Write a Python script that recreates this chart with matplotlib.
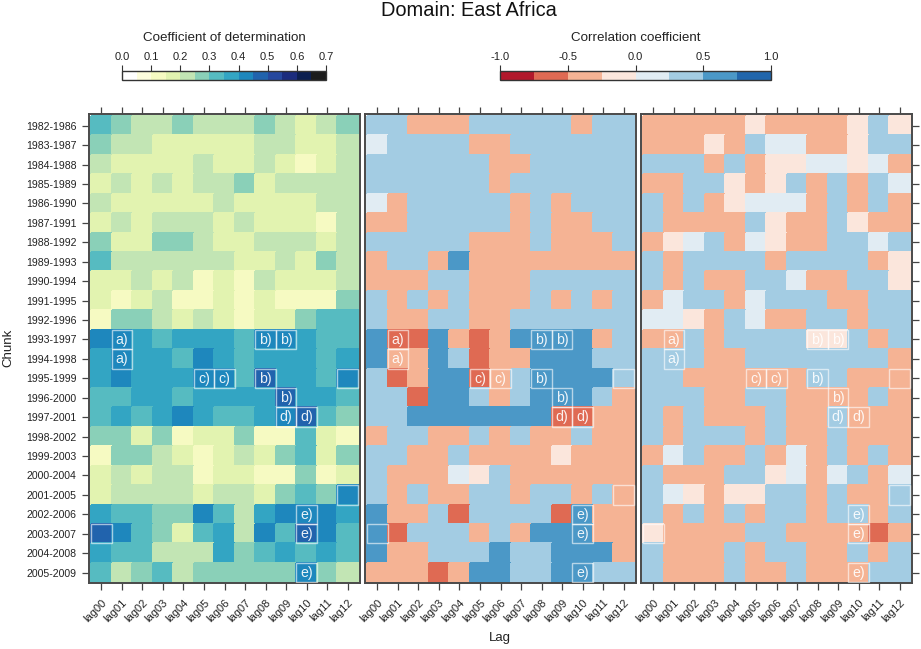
"""
Lagged regression skill per chunk, East Africa
"""
import numpy as np
import matplotlib
matplotlib.use("Agg")
import matplotlib.pyplot as plt
from matplotlib.cm import ScalarMappable
from matplotlib.colors import BoundaryNorm, ListedColormap
from matplotlib.patches import Rectangle

plt.rcParams['font.family'] = ['Liberation Sans', 'DejaVu Sans']

chunks = ["1982-1986", "1983-1987", "1984-1988", "1985-1989", "1986-1990", "1987-1991",
          "1988-1992", "1989-1993", "1990-1994", "1991-1995", "1992-1996", "1993-1997",
          "1994-1998", "1995-1999", "1996-2000", "1997-2001", "1998-2002", "1999-2003",
          "2000-2004", "2001-2005", "2002-2006", "2003-2007", "2004-2008", "2005-2009"]
lags = ["lag00", "lag01", "lag02", "lag03", "lag04", "lag05", "lag06",
        "lag07", "lag08", "lag09", "lag10", "lag11", "lag12"]

r2_values = [
    [.32, .28, .22, .22, .28, .22, .22, .22, .28, .22, .18, .22, .28],
    [.28, .22, .22, .18, .18, .18, .18, .18, .22, .22, .18, .18, .22],
    [.22, .18, .18, .18, .18, .22, .18, .18, .22, .18, .12, .18, .22],
    [.18, .22, .18, .22, .18, .22, .22, .28, .18, .22, .22, .22, .22],
    [.22, .18, .18, .18, .18, .18, .22, .18, .18, .18, .18, .22, .22],
    [.18, .22, .18, .22, .22, .22, .18, .22, .18, .18, .18, .12, .22],
    [.28, .18, .18, .28, .28, .22, .18, .18, .22, .22, .22, .18, .22],
    [.32, .22, .22, .22, .22, .22, .22, .18, .18, .22, .18, .28, .22],
    [.18, .18, .22, .18, .22, .12, .18, .12, .22, .18, .18, .18, .22],
    [.18, .12, .18, .22, .12, .12, .18, .12, .18, .12, .12, .12, .28],
    [.12, .28, .28, .22, .18, .22, .18, .12, .18, .18, .28, .32, .32],
    [.42, .42, .38, .32, .38, .38, .38, .32, .42, .42, .38, .32, .32],
    [.38, .42, .38, .38, .32, .42, .38, .32, .38, .38, .38, .32, .38],
    [.38, .42, .38, .38, .38, .42, .42, .32, .48, .38, .38, .32, .42],
    [.32, .32, .38, .38, .32, .38, .38, .38, .38, .48, .38, .38, .32],
    [.32, .38, .32, .38, .42, .38, .32, .32, .38, .42, .48, .32, .28],
    [.28, .28, .18, .28, .12, .18, .18, .28, .12, .12, .32, .18, .12],
    [.12, .28, .28, .22, .18, .12, .18, .22, .18, .28, .32, .18, .28],
    [.18, .22, .18, .22, .22, .12, .18, .18, .12, .12, .28, .12, .18],
    [.18, .22, .22, .22, .22, .18, .22, .22, .18, .28, .32, .28, .42],
    [.38, .32, .32, .28, .28, .42, .32, .22, .38, .42, .42, .42, .38],
    [.48, .42, .32, .28, .18, .32, .38, .22, .42, .32, .48, .42, .32],
    [.38, .32, .32, .22, .22, .22, .38, .28, .32, .38, .32, .38, .32],
    [.32, .22, .28, .32, .22, .28, .28, .28, .28, .28, .42, .28, .22],
]

corr_middle = [
    [.38, .38, -.38, -.38, -.38, .38, .38, .38, .38, .38, -.38, .38, .38],
    [.12, .38, .38, .38, .38, -.38, -.38, .38, .38, .38, .38, .38, .38],
    [.38, .38, .38, .38, .38, .38, -.38, -.38, .38, .38, .38, .38, .38],
    [.38, .38, .38, .38, .38, .38, -.38, .38, .38, .38, .38, .38, .38],
    [.12, -.38, .38, .38, .38, .38, .38, -.38, .38, -.38, .38, .38, .38],
    [-.38, -.38, .38, .38, .38, .38, .38, -.38, .38, -.38, -.38, .38, .38],
    [.38, .38, .38, .38, .38, -.38, -.38, -.38, .38, -.38, -.38, -.38, .38],
    [-.38, .38, .38, -.38, .62, -.38, -.38, -.38, -.38, -.38, -.38, -.38, -.38],
    [-.38, -.38, -.38, .38, .38, -.38, -.38, -.38, .38, .38, .38, .38, .38],
    [.38, -.38, .38, -.38, .38, -.38, -.38, -.38, .38, -.38, .38, -.38, .38],
    [.38, -.38, -.38, .38, .38, -.38, -.38, .38, .38, .38, .38, .38, .38],
    [.62, -.62, -.62, .62, -.38, -.62, -.38, .62, .62, .62, .62, -.38, .38],
    [.62, -.38, -.38, .62, .38, -.62, -.38, -.38, .62, .62, .62, .38, .38],
    [.38, -.62, -.38, .62, .62, -.62, -.38, .38, .62, .62, .62, .62, .38],
    [.38, .38, -.62, .62, .62, .38, -.38, .38, .62, .62, .62, .38, -.38],
    [.38, .38, .62, .62, .62, .62, .62, .62, .62, -.62, -.62, -.38, -.38],
    [-.38, .38, .38, -.38, -.38, .38, -.38, .38, -.38, -.38, .38, -.38, -.38],
    [.38, .38, -.38, -.38, .38, -.38, -.38, -.38, -.38, -.12, -.38, -.38, -.38],
    [.38, -.38, -.38, -.38, .12, -.12, .38, -.38, -.38, -.38, -.38, -.38, -.38],
    [.38, -.38, .38, -.38, -.38, .38, .38, -.38, .38, .38, -.38, .38, -.38],
    [.62, -.38, -.38, .38, -.62, .38, .38, .38, .38, -.62, .62, -.38, -.38],
    [.62, -.62, .38, .38, .38, -.38, .38, -.38, .62, .62, .62, -.38, -.38],
    [.62, -.38, -.38, .38, .38, .38, .62, .38, .38, .62, .62, .62, -.38],
    [-.38, -.38, -.38, -.62, -.38, .62, .62, .38, .38, .62, .62, .38, .38],
]

corr_right = [
    [-.38, -.38, -.38, -.38, -.38, -.12, -.38, -.38, -.38, -.38, -.12, .38, -.12],
    [-.38, -.38, -.38, -.12, -.38, .38, .12, .12, -.38, -.38, -.12, .38, .38],
    [.38, .38, .38, -.38, .38, -.38, -.12, -.12, .12, .12, -.12, .12, -.38],
    [-.38, -.38, .38, .38, -.12, -.38, -.12, .38, -.38, .38, -.38, .38, .12],
    [.38, -.38, .38, -.38, -.12, .12, .12, .12, -.38, .38, -.38, .38, -.38],
    [.38, -.38, -.38, -.38, -.38, .38, -.12, -.38, -.38, .38, -.12, -.38, -.38],
    [-.38, -.12, .12, .38, -.38, .12, -.12, -.38, -.38, .38, .38, .12, .38],
    [.38, -.38, .38, .38, .38, .38, -.38, .38, .38, .38, .38, -.38, -.12],
    [.38, -.38, .38, -.38, -.38, .38, .38, .12, -.38, -.38, .38, .38, -.12],
    [-.38, .12, .38, .38, -.38, .12, .38, .38, .38, -.38, -.38, .38, .38],
    [.12, .12, -.12, -.38, .38, .12, -.38, -.38, .38, .38, -.38, .38, .38],
    [-.38, -.38, .38, -.38, .38, .38, .38, .38, -.12, -.12, .38, -.38, .38],
    [.38, .38, .38, -.38, -.38, .38, .38, .38, .38, .38, .38, .38, -.38],
    [.38, .38, -.38, -.38, -.38, -.38, -.38, -.38, .38, .38, -.38, -.38, -.38],
    [.38, .38, .38, -.38, -.38, .38, .38, -.38, -.38, -.38, -.38, .38, -.38],
    [.38, -.38, .38, -.38, -.38, -.38, .38, -.38, -.38, .38, -.38, -.38, -.38],
    [.38, -.38, .38, .38, .38, -.38, .38, -.38, -.38, .38, -.38, -.38, -.38],
    [-.38, .12, .38, -.38, -.38, .38, -.38, .12, -.38, .38, -.38, .38, -.38],
    [.38, -.38, -.38, -.38, .38, .38, -.12, .12, -.38, .12, .38, -.38, .12],
    [.38, .12, -.12, -.38, -.12, -.12, .38, .38, -.38, .38, -.38, -.38, .38],
    [.38, -.38, .38, -.38, .38, -.38, .38, .38, -.38, .38, .38, -.38, .38],
    [-.12, -.38, -.38, -.38, -.38, .38, .38, -.38, -.38, -.38, -.38, -.62, -.38],
    [.38, -.38, -.38, -.38, .38, -.38, .38, .38, -.38, -.38, .38, -.38, .38],
    [.38, -.38, -.38, -.38, .38, -.38, -.38, .38, -.38, -.38, -.38, .38, .38],
]

# cells carrying a white box, with the panel letter where there is one
marked_cells = [
    ("1993-1997", "lag01", "a)"), ("1994-1998", "lag01", "a)"),
    ("1993-1997", "lag08", "b)"), ("1993-1997", "lag09", "b)"),
    ("1995-1999", "lag08", "b)"), ("1996-2000", "lag09", "b)"),
    ("1995-1999", "lag05", "c)"), ("1995-1999", "lag06", "c)"),
    ("1997-2001", "lag09", "d)"), ("1997-2001", "lag10", "d)"),
    ("2002-2006", "lag10", "e)"), ("2003-2007", "lag10", "e)"),
    ("2005-2009", "lag10", "e)"),
    ("1995-1999", "lag12", ""), ("2001-2005", "lag12", ""), ("2003-2007", "lag00", ""),
]

r2_bounds = np.arange(0, 0.75, 0.05)
r2_colors = ["#ffffff", "#fdfddc", "#f6fac2", "#e2f3b0", "#c2e5b4", "#8ad0b8", "#56bbc1",
             "#33a5c3", "#1e87bd", "#2163ad", "#26489e", "#1b2c7e", "#0c1f50", "#1c1c1c"]
corr_bounds = np.arange(-1, 1.25, 0.25)
corr_colors = ["#b2182b", "#df6a53", "#f5b394", "#fbe6dc",
               "#e1ecf3", "#a3cce3", "#4b98c7", "#2166ac"]

FIG_W, FIG_H = 921, 649
INK = "#222222"


def px_axes(fig, left, top, right, bottom):
    """Add axes from pixel positions measured from the top left corner."""
    return fig.add_axes([left / FIG_W, 1 - bottom / FIG_H,
                         (right - left) / FIG_W, (bottom - top) / FIG_H])


def draw_panel(ax, values, cmap, norm):
    xs = np.arange(len(lags) + 1) - 0.5
    ys = np.arange(len(chunks) + 1) - 0.5
    ax.pcolormesh(xs, ys, np.array(values), cmap=cmap, norm=norm, edgecolors="face", linewidth=0.2)
    ax.set_xlim(-0.6, len(lags) - 0.4)
    ax.set_ylim(len(chunks) - 0.44, -0.6)

    for chunk, lag, label in marked_cells:
        x = lags.index(lag)
        y = chunks.index(chunk)
        ax.add_patch(Rectangle((x - 0.5, y - 0.5), 1, 1, fill=False, edgecolor="white",
                               linewidth=1.0, alpha=0.6, zorder=3))
        if label:
            ax.text(x, y + 0.02, label, color="white", fontsize=10.2, alpha=0.9,
                    ha="center", va="center", zorder=4)

    ax.set_xticks(range(len(lags)))
    ax.set_xticklabels(lags, rotation=45, ha="right", va="top", rotation_mode="anchor",
                       fontsize=8, color=INK)
    ax.tick_params(axis="x", top=True, bottom=True, length=5, width=0.9, color="#444444", pad=5)
    ax.set_yticks(range(len(chunks)))
    for side in ax.spines.values():
        side.set_color("#4a4a4a")
        side.set_linewidth(1.4)


def draw_colorbar(fig, box, cmap, norm, ticks, labels, title):
    cax = px_axes(fig, *box)
    cb = fig.colorbar(ScalarMappable(norm=norm, cmap=cmap), cax=cax, orientation="horizontal",
                      spacing="proportional", ticks=ticks)
    cb.ax.xaxis.set_ticks_position("top")
    cb.ax.set_xticklabels(labels, fontsize=8, color=INK)
    cb.ax.minorticks_off()
    cb.ax.tick_params(axis="x", length=4, width=0.8, color="#333333", pad=2)
    cb.outline.set_edgecolor("#333333")
    cb.outline.set_linewidth(1.0)
    fig.text((box[0] + box[2]) / 2 / FIG_W, 1 - 38 / FIG_H, title, fontsize=9.6, color=INK,
             ha="center", va="center")


def main():
    fig = plt.figure(figsize=(FIG_W / 100, FIG_H / 100), dpi=100)

    r2_cmap = ListedColormap(r2_colors)
    r2_norm = BoundaryNorm(r2_bounds, r2_cmap.N)
    corr_cmap = ListedColormap(corr_colors)
    corr_norm = BoundaryNorm(corr_bounds, corr_cmap.N)

    ax_left = px_axes(fig, 89, 114, 360, 583.4)
    ax_mid = px_axes(fig, 365, 114, 636, 583.4)
    ax_right = px_axes(fig, 641, 114, 912, 583.4)

    draw_panel(ax_left, r2_values, r2_cmap, r2_norm)
    draw_panel(ax_mid, corr_middle, corr_cmap, corr_norm)
    draw_panel(ax_right, corr_right, corr_cmap, corr_norm)

    ax_left.set_yticklabels(chunks, fontsize=7.6, color=INK)
    ax_left.tick_params(axis="y", left=True, length=5, width=0.9, color="#444444", pad=4)
    ax_mid.tick_params(axis="y", left=False, right=False, labelleft=False)
    ax_right.tick_params(axis="y", left=False, right=True, labelleft=False, length=5,
                         width=0.9, color="#444444")

    draw_colorbar(fig, (122, 70.5, 326, 80), r2_cmap, r2_norm, np.arange(0, 0.8, 0.1),
                  ["0.0", "0.1", "0.2", "0.3", "0.4", "0.5", "0.6", "0.7"],
                  "Coefficient of determination")
    draw_colorbar(fig, (500, 70.5, 771, 80), corr_cmap, corr_norm, np.arange(-1, 1.5, 0.5),
                  ["-1.0", "-0.5", "0.0", "0.5", "1.0"], "Correlation coefficient")

    fig.text(469 / FIG_W, 1 - 10 / FIG_H, "Domain: East Africa", fontsize=14.4, color="#111111",
             ha="center", va="center")
    fig.text(500 / FIG_W, 1 - 638 / FIG_H, "Lag", fontsize=9.5, color=INK, ha="center", va="center")
    fig.text(8 / FIG_W, 1 - 348 / FIG_H, "Chunk", fontsize=9.5, color=INK, rotation=90,
             ha="center", va="center")

    fig.savefig("out.png", dpi=100)


if __name__ == "__main__":
    main()
